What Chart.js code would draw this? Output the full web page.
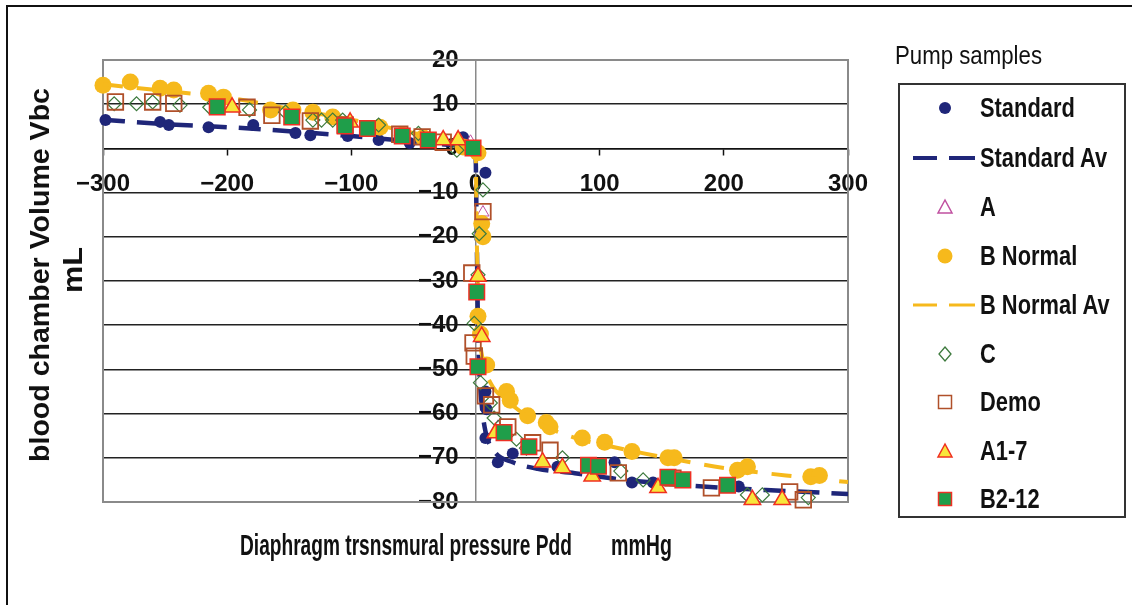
<!DOCTYPE html>
<html>
<head>
<meta charset="utf-8">
<script src="https://cdn.jsdelivr.net/npm/chart.js@4.4.1/dist/chart.umd.min.js"></script>
<style>
  body { margin: 0; background: #fff; font-family: "Liberation Sans", Arial, sans-serif; color: #111; }
  #wrap { position: relative; width: 1132px; height: 605px; overflow: hidden; }
  #frame { position: absolute; left: 6px; top: 5px; right: -10px; bottom: -10px;
           border-left: 2px solid #111; border-top: 2px solid #111; }
  #chartBox { position: absolute; left: 0; top: 0; width: 1132px; height: 605px; }
  .txt { position: absolute; white-space: nowrap; line-height: 1; }
  #legendBox { position: absolute; left: 898px; top: 83px; width: 228px; height: 435px;
               border: 2px solid #333; box-sizing: border-box; }
</style>
</head>
<body>
<div id="wrap">
  <div id="frame"></div>
  <div id="chartBox"><canvas id="pumpChart"></canvas></div>
  <div id="legendBox"></div>
</div>
<script>
document.addEventListener("DOMContentLoaded", function () {

    // data: [pressure mmHg, volume mL]
    const standard = [[-298,6.4],[-254,6.0],[-247,5.3],[-215,4.8],[-179,5.3],[-145,3.5],[-133,3.0],
        [-103,2.8],[-78,1.9],[-53,1.2],[-10,2.5],[8,-5.5],[8,-55],[9,-59],[8,-65.5],[18,-71],
        [30,-69],[66,-72],[112,-71],[126,-75.6],[143,-75.6],[212,-76.5]];
    const standardAv = [[-300,6.5],[-250,5.5],[-200,4.8],[-150,3.9],[-100,2.8],[-50,1.6],[-10,0.6],
        [0,-1],[1,-20],[2,-40],[3,-50],[5,-58],[8,-64],[15,-68.5],[30,-71],[50,-72.5],[80,-73.5],
        [120,-75],[160,-76],[200,-76.8],[250,-77.5],[300,-78.2]];
    const sampleA = [[-4,1.5],[6,-14.5],[18,-63]];
    const bNormal = [[-300,14.3],[-278,15],[-254,13.6],[-243,13.2],[-215,12.5],[-203,11.6],[-165,8.7],
        [-147,8.7],[-131,8.2],[-115,7.1],[-77,4.8],[-59,3],[-42,2.4],[-10,0.3],[2,-1],[5,-17],[6,-20],
        [2,-38],[4,-42],[9,-49],[25,-55],[28,-57],[42,-60.5],[57,-62],[60,-63],[86,-65.5],[104,-66.5],
        [126,-68.6],[155,-70],[160,-70],[211,-72.8],[219,-72],[270,-74.3],[277,-74]];
    const bNormalAv = [[-300,14.5],[-250,13],[-200,11.5],[-150,9],[-100,6.5],[-50,3.5],[-10,1],[0,0],
        [1,-20],[3,-40],[6,-48],[12,-53],[25,-57],[50,-62],[80,-65.5],[110,-67.5],[150,-69.8],
        [200,-72.3],[250,-74],[300,-75.5]];
    const sampleC = [[-291,10.1],[-273,10.1],[-260,10.5],[-238,9.8],[-214,9.3],[-182,8.7],[-153,8.2],
        [-131,6.4],[-124,6.4],[-115,6.4],[-107,6.4],[-78,5.3],[-46,3.4],[-15,-0.4],[6,-9.4],[3,-19.3],
        [2,-28.6],[-1,-39.6],[4,-53],[12,-57.6],[15,-61],[33,-65.8],[41,-67.8],[70,-70],[117,-73],
        [135,-75],[219,-78.4],[231,-78.4],[268,-79]];
    const demo = [[-290,10.5],[-260,10.5],[-243,10.2],[-184,9.3],[-164,7.5],[-133,6.2],[-105,5.3],
        [-61,3.2],[-43,2.6],[-26,1.4],[6,-14.3],[-3,-28.2],[-2,-44],[-1,-47],[8,-56],[13,-58],[26,-63],
        [46,-66.6],[60,-68.3],[115,-73.4],[159,-74.6],[190,-76.8],[253,-77.7],[264,-79.5]];
    const a17 = [[-196,9.3],[-101,5.9],[-26,1.9],[-14,1.9],[2,-29],[5,-42.6],[16,-64.4],[54,-71],
        [70,-72.3],[94,-74.2],[147,-76.8],[223,-79.5],[247,-79.5]];
    const b212 = [[-208,9.4],[-148,7.1],[-105,5.1],[-87,4.5],[-59,2.8],[-38,1.9],[-2,0.1],[1,-32.5],
        [2,-49.4],[23,-64.3],[43,-67.5],[91,-71.7],[99,-71.9],[155,-74.4],[167,-75],[203,-76.2]];

    const seriesNames = ["Standard", "Standard Av", "A", "B Normal", "B Normal Av", "C", "Demo", "A1-7", "B2-12"];
    const xLimits = [-300, 300, 100];
    const yLimits = [-80, 20, 10];

    const NAVY = "#1f2679", GOLD = "#f6b91c";
    const tickFont = { family: "'Liberation Sans', Arial, sans-serif", size: 24, weight: "bold" };

    const toPts = arr => arr.map(p => ({ x: p[0], y: p[1] }));

    function dots(name, arr, style) {
        return Object.assign({ label: name, data: toPts(arr), showLine: false, clip: false }, style);
    }
    function avLine(name, arr, color, width, dash) {
        return {
            label: name, data: toPts(arr), showLine: true, pointRadius: 0, clip: false,
            borderColor: color, backgroundColor: color, borderWidth: width, borderDash: dash,
            cubicInterpolationMode: "monotone", fill: false
        };
    }

    const datasets = [
        dots(seriesNames[0], standard, { pointStyle: "circle", pointRadius: 6, backgroundColor: NAVY, borderColor: NAVY, borderWidth: 0 }),
        avLine(seriesNames[1], standardAv, NAVY, 4.5, [22, 12]),
        dots(seriesNames[2], sampleA, { pointStyle: "triangle", pointRadius: 7, backgroundColor: "rgba(0,0,0,0)", borderColor: "#c050a0", borderWidth: 1 }),
        dots(seriesNames[3], bNormal, { pointStyle: "circle", pointRadius: 8.5, backgroundColor: GOLD, borderColor: GOLD, borderWidth: 0 }),
        avLine(seriesNames[4], bNormalAv, GOLD, 4, [20, 14]),
        dots(seriesNames[5], sampleC, { pointStyle: "rectRot", pointRadius: 7, backgroundColor: "rgba(0,0,0,0)", borderColor: "#3d7a3d", borderWidth: 1.2 }),
        dots(seriesNames[6], demo, { pointStyle: "rect", pointRadius: 11, backgroundColor: "rgba(0,0,0,0)", borderColor: "#b0502a", borderWidth: 1.8 }),
        dots(seriesNames[7], a17, { pointStyle: "triangle", pointRadius: 9.5, backgroundColor: "#f8e63a", borderColor: "#f03020", borderWidth: 1.5 }),
        dots(seriesNames[8], b212, { pointStyle: "rect", pointRadius: 11, backgroundColor: "#1f9e4a", borderColor: "#ee3024", borderWidth: 1.5 })
    ];
    // later series sit on top, like the original
    datasets.forEach((d, i) => { d.order = datasets.length - i; });

    // gray frame round the plot area
    const plotFrame = {
        id: "plotFrame",
        beforeDatasetsDraw(chart) {
            const a = chart.chartArea, ctx = chart.ctx;
            ctx.save();
            ctx.strokeStyle = "#8a8a8a";
            ctx.lineWidth = 2;
            ctx.strokeRect(a.left, a.top, a.right - a.left, a.bottom - a.top);
            ctx.restore();
        }
    };

    const minus = v => String(v).replace("-", "\u2212");

    new Chart(document.getElementById("pumpChart"), {
        type: "scatter",
        data: { datasets: datasets },
        options: {
            responsive: true,
            maintainAspectRatio: false,
            animation: false,
            layout: { padding: { left: 103, top: 60, right: 284, bottom: 103 } },
            plugins: { legend: { display: false }, tooltip: { enabled: false } },
            scales: {
                x: {
                    type: "linear", position: { y: 0 },
                    min: xLimits[0], max: xLimits[1],
                    grid: { drawOnChartArea: false, drawTicks: true, tickLength: 6, tickColor: "#111", tickWidth: 1.5 },
                    border: { display: true, color: "#111", width: 1.5 },
                    ticks: { stepSize: xLimits[2], padding: 16, color: "#111", font: tickFont, maxRotation: 0, autoSkip: false,
                             callback: v => minus(v) }
                },
                y: {
                    type: "linear", position: { x: 0 },
                    min: yLimits[0], max: yLimits[1],
                    grid: { color: "#222", lineWidth: 1.5, drawTicks: true, tickLength: 5, tickColor: "#111" },
                    border: { display: true, color: "#8a8a8a", width: 1.5 },
                    ticks: { stepSize: yLimits[2], color: "#111", font: tickFont, autoSkip: false,
                             callback: v => minus(v) + "\u2002\u2009" }
                }
            }
        },
        plugins: [plotFrame]
    });

    // plain text pieces: axis titles and legend
    const wrap = document.getElementById("wrap");

    function addText(parent, text, size, weight, left, midY, width, origin) {
        const el = document.createElement("div");
        el.className = "txt";
        el.textContent = text;
        el.style.fontSize = size + "px";
        el.style.fontWeight = weight;
        el.style.left = left + "px";
        el.style.top = (midY - size / 2) + "px";
        parent.appendChild(el);
        if (width) {
            const s = width / el.getBoundingClientRect().width;
            el.style.transformOrigin = origin || "left center";
            el.style.transform = "scaleX(" + s.toFixed(3) + ")";
        }
        return el;
    }

    function addVertical(text, size, cx, cy, length) {
        const el = document.createElement("div");
        el.className = "txt";
        el.textContent = text;
        el.style.fontSize = size + "px";
        el.style.fontWeight = "bold";
        el.style.left = cx + "px";
        el.style.top = cy + "px";
        wrap.appendChild(el);
        const s = length / el.getBoundingClientRect().width;
        el.style.transform = "translate(-50%,-50%) rotate(-90deg) scaleX(" + s.toFixed(3) + ")";
    }

    addVertical("blood chamber Volume Vbc", 28, 40, 275, 374);
    addVertical("mL", 28, 73, 270, 46);

    addText(wrap, "Diaphragm trsnsmural pressure Pdd", 30, "bold", 240, 545, 332);
    addText(wrap, "mmHg", 30, "bold", 611, 545, 61);
    addText(wrap, "Pump samples", 25, "normal", 895, 55, 147);

    // legend rows (box is at 898,83)
    const rowY = [108, 158, 207, 256, 305, 354, 402, 451, 499];
    const legendBox = document.getElementById("legendBox");
    const ns = "http://www.w3.org/2000/svg";
    const svg = document.createElementNS(ns, "svg");
    svg.setAttribute("width", "228");
    svg.setAttribute("height", "435");
    svg.style.position = "absolute";
    svg.style.left = "-2px";
    svg.style.top = "-2px";
    legendBox.appendChild(svg);

    function shape(tag, attrs) {
        const el = document.createElementNS(ns, tag);
        Object.keys(attrs).forEach(k => el.setAttribute(k, attrs[k]));
        svg.appendChild(el);
    }

    const mx = 945 - 898;
    seriesNames.forEach((name, i) => {
        const cy = rowY[i] - 83;
        const d = datasets[i];
        if (name === "Standard" || name === "B Normal") {
            shape("circle", { cx: mx, cy: cy, r: i === 0 ? 6 : 7.5, fill: d.backgroundColor });
        } else if (name.endsWith("Av")) {
            shape("line", { x1: 913 - 898, y1: cy, x2: 937 - 898, y2: cy, stroke: d.borderColor, "stroke-width": i === 1 ? 4 : 3 });
            shape("line", { x1: 949 - 898, y1: cy, x2: 975 - 898, y2: cy, stroke: d.borderColor, "stroke-width": i === 1 ? 4 : 3 });
        } else if (d.pointStyle === "triangle") {
            shape("polygon", { points: `${mx},${cy - 7} ${mx - 7},${cy + 6} ${mx + 7},${cy + 6}`,
                fill: i === 2 ? "#fff" : d.backgroundColor, stroke: d.borderColor, "stroke-width": 1.5 });
        } else if (d.pointStyle === "rectRot") {
            shape("polygon", { points: `${mx},${cy - 7} ${mx + 6},${cy} ${mx},${cy + 7} ${mx - 6},${cy}`,
                fill: "#fff", stroke: d.borderColor, "stroke-width": 1.3 });
        } else {
            shape("rect", { x: mx - 6.5, y: cy - 6.5, width: 13, height: 13,
                fill: i === 6 ? "#fff" : d.backgroundColor, stroke: d.borderColor, "stroke-width": 1.5 });
        }
        const t = addText(wrap, name, 27, "bold", 980, rowY[i], null);
        t.style.transformOrigin = "left center";
        t.style.transform = "scaleX(0.81)";
    });
});
</script>
</body>
</html>
